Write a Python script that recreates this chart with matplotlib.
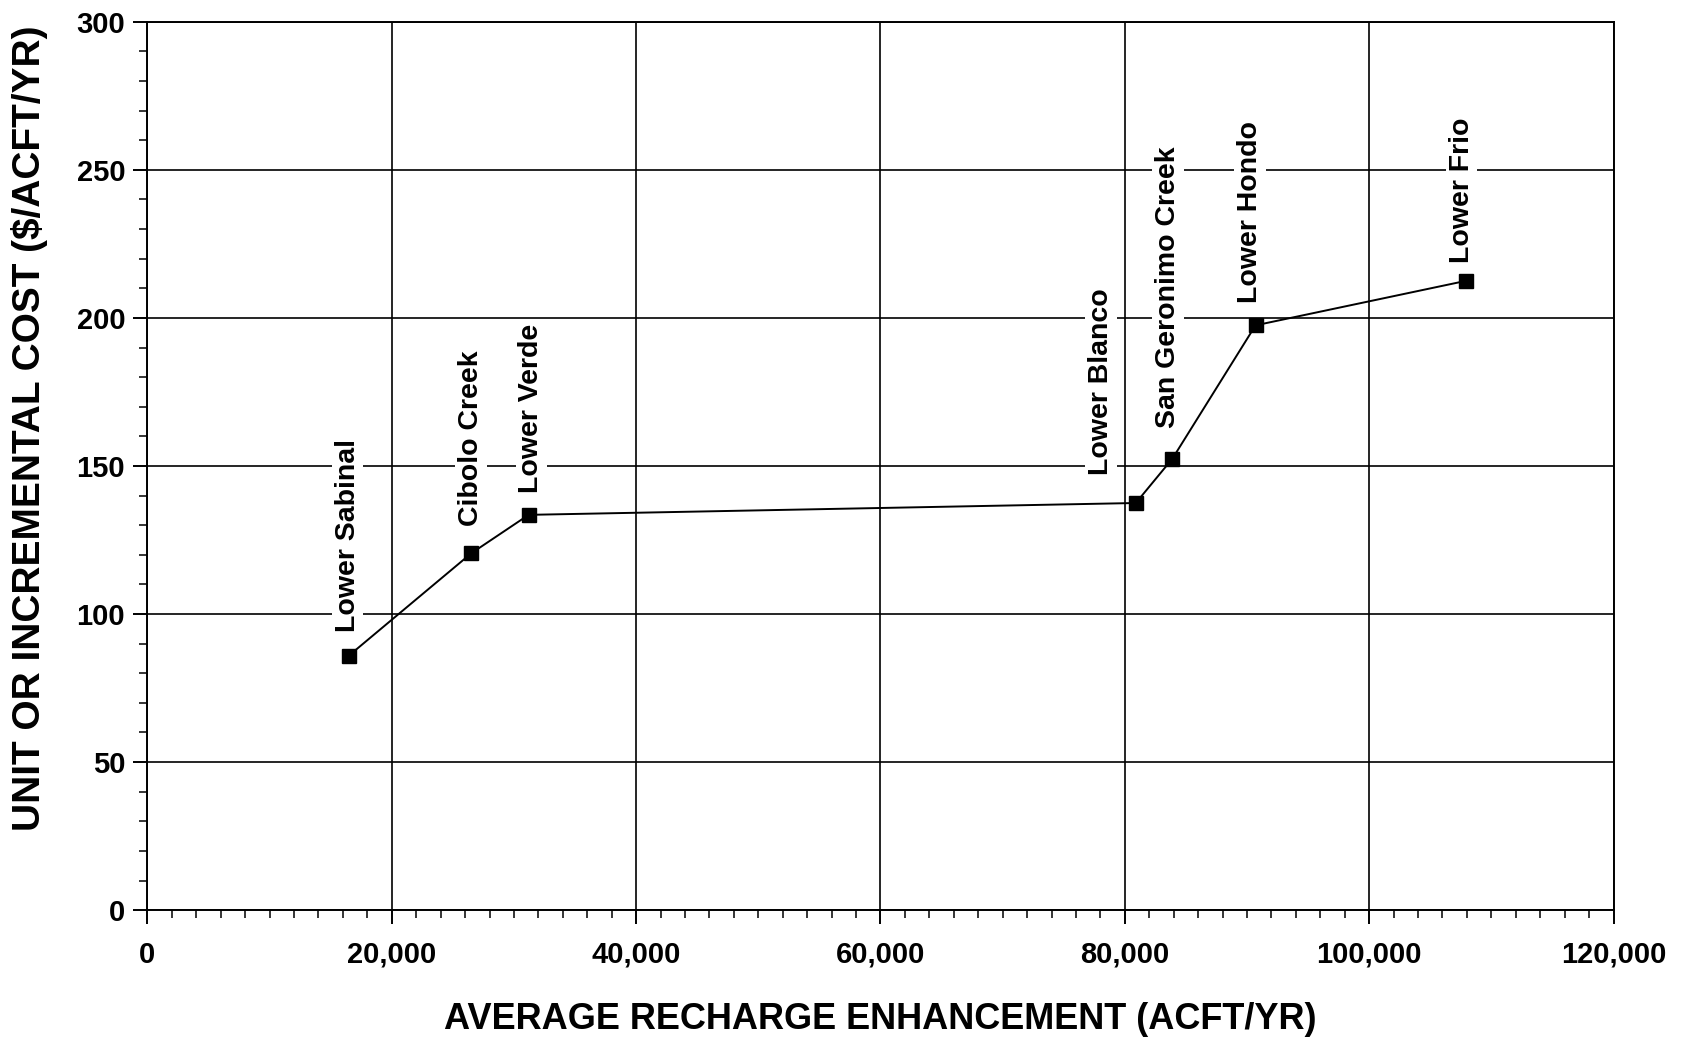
import matplotlib
matplotlib.use("Agg")
import matplotlib.pyplot as plt
from matplotlib.ticker import MultipleLocator, FuncFormatter

plt.rcParams['font.family'] = ['Liberation Sans', 'DejaVu Sans']
plt.rcParams['font.weight'] = 'bold'

# projects along the recharge curve
projects = ["Lower Sabinal", "Cibolo Creek", "Lower Verde", "Lower Blanco",
            "San Geronimo Creek", "Lower Hondo", "Lower Frio"]
recharge = [16500, 26500, 31200, 80900, 83900, 90700, 107900]   # acft/yr
unit_cost = [86, 120.5, 133.5, 137.5, 152.5, 197.5, 212.5]     # $/acft/yr

# label offsets in points (dx, dy) from each point
label_offsets = [(-1, 17), (0, 20), (2, 16), (-25, 20), (-3, 22), (-4, 16), (-3, 13)]

fig = plt.figure(figsize=(16.89, 10.39), dpi=100)
ax = fig.add_axes([0.0873, 0.124, 0.868, 0.855])

ax.plot(recharge, unit_cost, color='black', lw=1.4, marker='s', ms=9.5,
        mfc='black', mec='black', zorder=3)

for name, x, y, off in zip(projects, recharge, unit_cost, label_offsets):
    ax.annotate(name, (x, y), xytext=off, textcoords='offset points',
                rotation=90, ha='center', va='bottom', fontsize=20.5, fontweight='bold',
                bbox=dict(facecolor='white', edgecolor='none', pad=2), zorder=4)

ax.set_xlim(0, 120000)
ax.set_ylim(0, 300)
ax.xaxis.set_major_locator(MultipleLocator(20000))
ax.xaxis.set_minor_locator(MultipleLocator(2000))
ax.yaxis.set_major_locator(MultipleLocator(50))
ax.yaxis.set_minor_locator(MultipleLocator(10))
ax.xaxis.set_major_formatter(FuncFormatter(lambda v, p: '{:,.0f}'.format(v)))

ax.grid(True, which='major', color='black', lw=1.2)
ax.set_axisbelow(True)
ax.tick_params(which='major', direction='out', length=10, width=1.4, labelsize=21)
ax.tick_params(axis='x', which='major', pad=12)
ax.tick_params(axis='y', which='major', pad=6)
ax.tick_params(which='minor', direction='out', length=6, width=1.1)
for s in ax.spines.values():
    s.set_linewidth(1.4)

ax.set_xlabel('AVERAGE RECHARGE ENHANCEMENT (ACFT/YR)', fontsize=26, fontweight='bold', labelpad=24)
ax.set_ylabel('UNIT OR INCREMENTAL COST ($/ACFT/YR)', fontsize=28, fontweight='bold')
ax.yaxis.set_label_coords(-0.068, 0.542)

fig.savefig('out.png', dpi=100)
